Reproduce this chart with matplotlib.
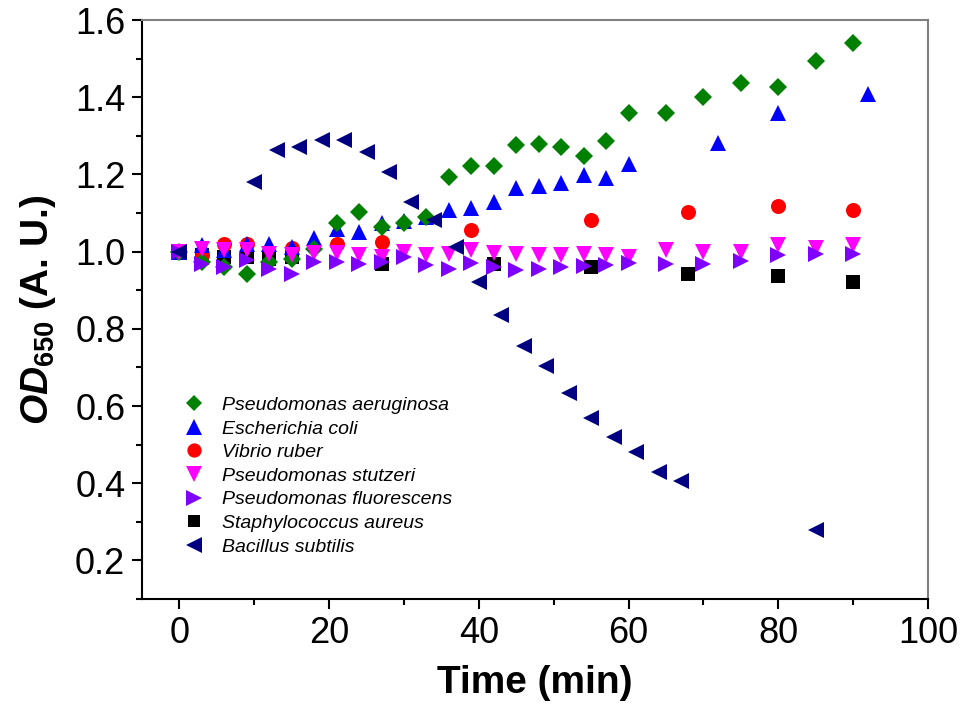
import matplotlib
matplotlib.use("Agg")
from matplotlib import pyplot as plt
from matplotlib.ticker import MultipleLocator

plt.rcParams['font.family'] = 'Liberation Sans'
plt.rcParams['mathtext.fontset'] = 'custom'
plt.rcParams['mathtext.rm'] = 'Liberation Sans'
plt.rcParams['mathtext.it'] = 'Liberation Sans:italic'
plt.rcParams['mathtext.bf'] = 'Liberation Sans:bold'
plt.rcParams['mathtext.bfit'] = 'Liberation Sans:bold:italic'

# time points (min) and OD650 readings per strain
t_aer = [0, 3, 6, 9, 12, 15, 18, 21, 24, 27, 30, 33, 36, 39, 42, 45, 48, 51, 54, 57, 60, 65, 70, 75, 80, 85, 90]
od_aer = [1.0, 0.973, 0.96, 0.943, 0.973, 0.982, 1.008, 1.073, 1.103, 1.064, 1.073, 1.09, 1.193, 1.222, 1.222,
          1.276, 1.278, 1.272, 1.247, 1.287, 1.359, 1.36, 1.4, 1.436, 1.427, 1.494, 1.541]

t_coli = [0, 3, 6, 9, 12, 15, 18, 21, 24, 27, 30, 33, 36, 39, 42, 45, 48, 51, 54, 57, 60, 72, 80, 92]
od_coli = [1.0, 1.017, 1.005, 1.021, 1.021, 1.012, 1.034, 1.058, 1.051, 1.073, 1.08, 1.09, 1.109, 1.113, 1.129,
           1.164, 1.17, 1.178, 1.198, 1.192, 1.227, 1.282, 1.36, 1.408]

t_vib = [0, 3, 6, 9, 15, 21, 27, 39, 55, 68, 80, 90]
od_vib = [1.0, 0.99, 1.021, 1.021, 1.01, 1.021, 1.025, 1.055, 1.081, 1.103, 1.118, 1.109]

t_stu = [0, 3, 6, 9, 12, 15, 18, 21, 24, 27, 30, 33, 36, 39, 42, 45, 48, 51, 54, 57, 60, 65, 70, 75, 80, 85, 90]
od_stu = [1.0, 1.008, 1.003, 1.003, 0.995, 0.99, 0.996, 0.996, 0.99, 0.986, 0.999, 0.99, 0.995, 1.003, 0.997,
          0.995, 0.99, 0.99, 0.995, 0.99, 0.986, 1.003, 1.0, 0.999, 1.017, 1.01, 1.017]

t_flu = [0, 3, 6, 9, 12, 15, 18, 21, 24, 27, 30, 33, 36, 39, 42, 45, 48, 51, 54, 57, 60, 65, 70, 75, 80, 85, 90]
od_flu = [1.0, 0.969, 0.96, 0.978, 0.956, 0.943, 0.973, 0.973, 0.969, 0.973, 0.986, 0.965, 0.956, 0.97, 0.96,
          0.952, 0.956, 0.96, 0.962, 0.965, 0.97, 0.969, 0.969, 0.976, 0.99, 0.995, 0.995]

t_sta = [0, 3, 6, 9, 12, 15, 27, 42, 55, 68, 80, 90]
od_sta = [1.0, 0.99, 0.986, 0.986, 0.98, 0.986, 0.969, 0.969, 0.959, 0.943, 0.936, 0.921]

t_bac = [0, 10, 13, 16, 19, 22, 25, 28, 31, 34, 37, 40, 43, 46, 49, 52, 55, 58, 61, 64, 67, 85]
od_bac = [1.0, 1.181, 1.263, 1.27, 1.29, 1.29, 1.258, 1.207, 1.129, 1.081, 1.012, 0.921, 0.835, 0.755,
          0.703, 0.635, 0.57, 0.52, 0.481, 0.429, 0.407, 0.278]

fig = plt.figure(figsize=(9.62, 7.23), dpi=100)
ax = fig.add_axes([0.1476, 0.1715, 0.8171, 0.8008])

# (x, y, label, marker, colour, size, zorder)
series = [
    (t_aer, od_aer, 'Pseudomonas aeruginosa', 'D', '#008000', 8.7, 4),
    (t_coli, od_coli, 'Escherichia coli', '^', '#0000FF', 11.5, 3),
    (t_vib, od_vib, 'Vibrio ruber', 'o', '#FF0000', 10.8, 2),
    (t_stu, od_stu, 'Pseudomonas stutzeri', 'v', '#FF00FF', 11.5, 5),
    (t_flu, od_flu, 'Pseudomonas fluorescens', '>', '#8000FF', 11.5, 6),
    (t_sta, od_sta, 'Staphylococcus aureus', 's', '#000000', 9.4, 1),
    (t_bac, od_bac, 'Bacillus subtilis', '<', '#000080', 11.5, 7),
]
for x, y, lab, m, c, ms, z in series:
    ax.plot(x, y, linestyle='none', marker=m, color=c, markersize=ms,
            markeredgewidth=0, label=lab, zorder=z)

ax.set_xlim(-5, 100)
ax.set_ylim(0.1, 1.6)
ax.xaxis.set_major_locator(MultipleLocator(20))
ax.xaxis.set_minor_locator(MultipleLocator(10))
ax.yaxis.set_major_locator(MultipleLocator(0.2))
ax.yaxis.set_minor_locator(MultipleLocator(0.1))
ax.set_yticks([0.2, 0.4, 0.6, 0.8, 1.0, 1.2, 1.4, 1.6])
ax.set_yticklabels(['0.2', '0.4', '0.6', '0.8', '1.0', '1.2', '1.4', '1.6'])

ax.tick_params(which='both', direction='out', width=1.5, labelsize=26, pad=5,
               top=False, right=False)
ax.tick_params(which='major', length=7)
ax.tick_params(which='minor', length=4.5)
for side in ['left', 'bottom']:
    ax.spines[side].set_linewidth(1.5)
for side in ['top', 'right']:
    ax.spines[side].set_linewidth(1.5)
    ax.spines[side].set_color('#808080')

ax.set_xlabel('Time (min)', fontsize=28, fontweight='bold', labelpad=10)
ax.set_ylabel(r'$\mathbfit{OD}_{\mathbf{650}}$ (A. U.)', fontsize=28, fontweight='bold', labelpad=12)

leg = ax.legend(loc='center left', bbox_to_anchor=(0.039, 0.2124), frameon=False,
                prop={'style': 'italic', 'size': 14}, handlelength=1.2, handletextpad=0.85,
                labelspacing=0.31, borderpad=0, markerscale=0.95)

fig.savefig('out.png', dpi=100)
